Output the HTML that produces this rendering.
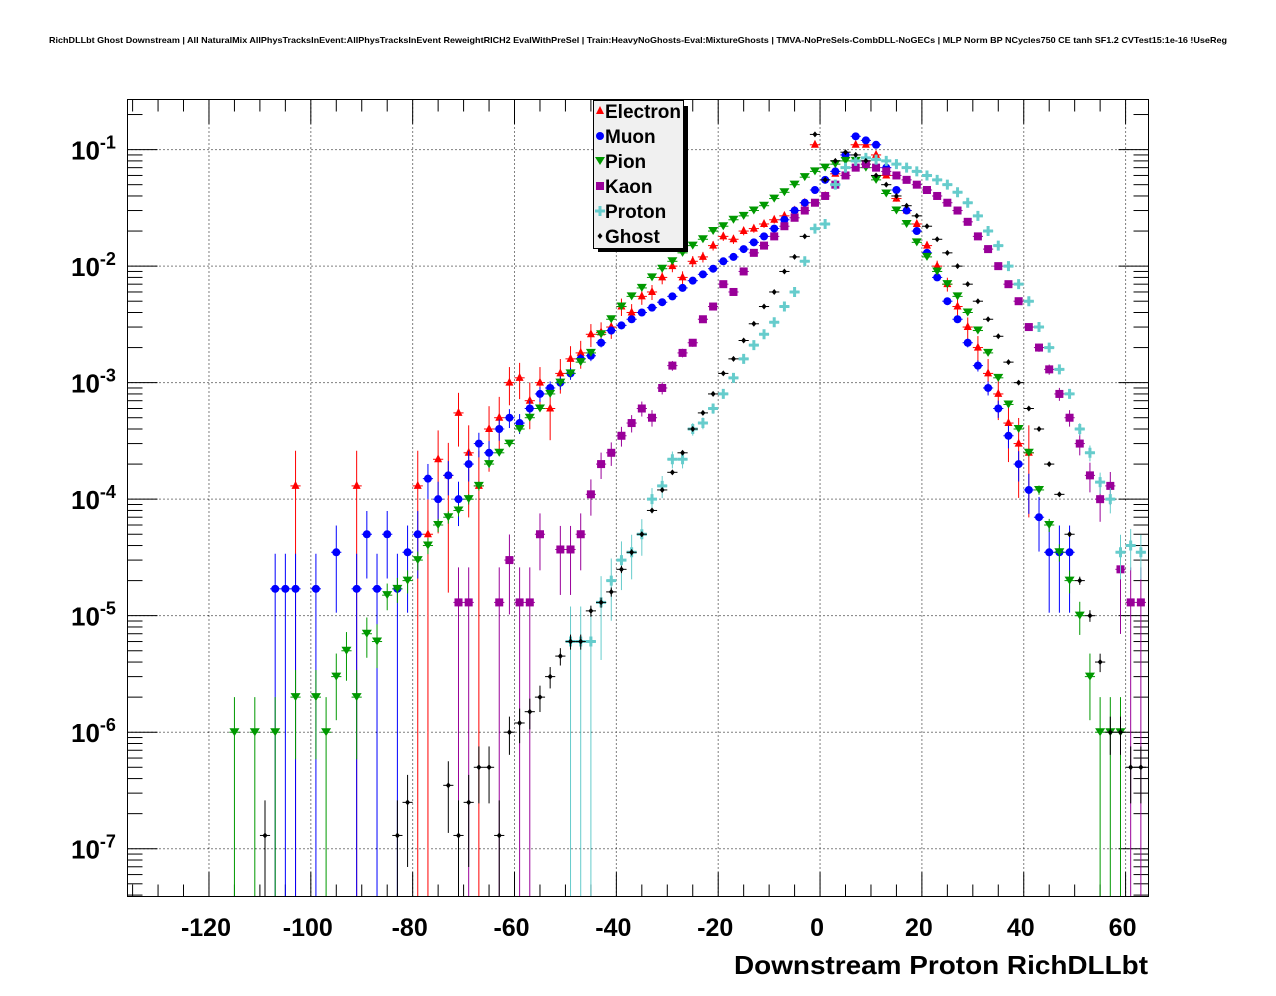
<!DOCTYPE html>
<html><head><meta charset="utf-8">
<style>
body{margin:0;background:#fff;}
svg{display:block;font-family:"Liberation Sans",sans-serif;}
</style></head>
<body>
<svg id="c" width="1276" height="996" xmlns="http://www.w3.org/2000/svg">
<text x="638" y="43" text-anchor="middle" font-size="8.5" font-weight="bold" textLength="1178" lengthAdjust="spacingAndGlyphs">RichDLLbt Ghost Downstream | All NaturalMix AllPhysTracksInEvent:AllPhysTracksInEvent ReweightRICH2 EvalWithPreSel | Train:HeavyNoGhosts-Eval:MixtureGhosts | TMVA-NoPreSels-CombDLL-NoGECs | MLP Norm BP NCycles750 CE tanh SF1.2 CVTest15:1e-16 !UseReg</text>
<g id="grid"></g>
<g id="axes"></g>
<g id="marks"></g>
<rect x="127.5" y="99.5" width="1021" height="797" fill="none" stroke="#000"/>
<g>
<rect x="598" y="106" width="90" height="146" fill="#000"/>
<rect x="593.5" y="100.5" width="90" height="148" fill="#f0f0f0" stroke="#000"/>
<g id="leg"></g>
</g>
<text x="1148" y="974" text-anchor="end" font-size="26" font-weight="bold" textLength="414" lengthAdjust="spacingAndGlyphs">Downstream Proton RichDLLbt</text>
</svg>
<script>
const seriesNames=["Electron","Muon","Pion","Kaon","Proton","Ghost"];
const seriesColors=["#ff0000","#0000ff","#009900","#990099","#66cccc","#000000"];
const seriesUnit=[1.3e-4,1.7e-5,1e-6,1.3e-5,6e-6,1.3e-7];
const xTicks=[-120,-100,-80,-60,-40,-20,0,20,40,60];
const yTickExps=[-1,-2,-3,-4,-5,-6,-7];

const electronX=[-103,-91,-79,-77,-75,-73,-71,-69,-67,-65,-63,-61,-59,-57,-55,-53,-51,-49,-47,-45,-43,-41,-39,-37,-35,-33,-31,-29,-27,-25,-23,-21,-19,-17,-15,-13,-11,-9,-7,-5,-3,-1,1,3,5,7,9,11,13,15,17,19,21,23,25,27,29,31,33,35,37,39,41];
const electronY=[1.3e-4,1.3e-4,1.3e-4,5e-5,2.2e-4,1.6e-4,5.5e-4,2.5e-4,1.3e-4,4e-4,5e-4,1e-3,1.1e-3,7e-4,1e-3,6e-4,1.2e-3,1.6e-3,1.8e-3,2.6e-3,2.7e-3,3e-3,4.5e-3,4e-3,5.5e-3,6e-3,8e-3,1e-2,8e-3,1.1e-2,1.2e-2,1.5e-2,1.8e-2,1.7e-2,2e-2,2.1e-2,2.3e-2,2.5e-2,2.7e-2,3e-2,3.5e-2,1.1e-1,4e-2,6.2e-2,9e-2,1.1e-1,1.1e-1,9e-2,6e-2,3.8e-2,3e-2,2.3e-2,1.5e-2,1e-2,7e-3,4.5e-3,3e-3,2e-3,1.2e-3,8e-4,4.5e-4,3e-4,2.5e-4];

const muonX=[-107,-105,-103,-99,-95,-91,-89,-87,-85,-83,-81,-79,-77,-75,-73,-71,-69,-67,-65,-63,-61,-59,-57,-55,-53,-51,-49,-47,-45,-43,-41,-39,-37,-35,-33,-31,-29,-27,-25,-23,-21,-19,-17,-15,-13,-11,-9,-7,-5,-3,-1,1,3,5,7,9,11,13,15,17,19,21,23,25,27,29,31,33,35,37,39,41,43,45,47,49];
const muonY=[1.7e-5,1.7e-5,1.7e-5,1.7e-5,3.5e-5,1.7e-5,5e-5,1.7e-5,5e-5,1.7e-5,3.5e-5,5e-5,1.5e-4,1e-4,1.6e-4,1e-4,2e-4,3e-4,2.5e-4,4e-4,5e-4,4.5e-4,6e-4,8e-4,9e-4,1e-3,1.2e-3,1.6e-3,1.7e-3,2.2e-3,2.8e-3,3.1e-3,3.5e-3,4e-3,4.4e-3,4.9e-3,5.5e-3,6.5e-3,7.5e-3,8.5e-3,9.5e-3,1.1e-2,1.2e-2,1.4e-2,1.6e-2,1.8e-2,2.1e-2,2.5e-2,3e-2,3.5e-2,4.5e-2,5.5e-2,6.5e-2,9e-2,1.3e-1,1.2e-1,1.1e-1,7e-2,4.5e-2,3e-2,2e-2,1.3e-2,8e-3,5e-3,3.5e-3,2.2e-3,1.4e-3,9e-4,6e-4,3.5e-4,2e-4,1.2e-4,7e-5,3.5e-5,3.5e-5,3.5e-5];

const pionX=[-115,-111,-107,-103,-99,-97,-95,-93,-91,-89,-87,-85,-83,-81,-79,-77,-75,-73,-71,-69,-67,-65,-63,-61,-59,-57,-55,-53,-51,-49,-47,-45,-43,-41,-39,-37,-35,-33,-31,-29,-27,-25,-23,-21,-19,-17,-15,-13,-11,-9,-7,-5,-3,-1,1,3,5,7,9,11,13,15,17,19,21,23,25,27,29,31,33,35,37,39,41,43,45,47,49,51,53,55,57,59];
const pionY=[1e-6,1e-6,1e-6,2e-6,2e-6,1e-6,3e-6,5e-6,2e-6,7e-6,6e-6,1.5e-5,1.7e-5,2e-5,3e-5,4e-5,6e-5,7e-5,8e-5,1e-4,1.3e-4,2e-4,2.5e-4,3e-4,4e-4,5e-4,6e-4,8e-4,1e-3,1.2e-3,1.5e-3,1.8e-3,2.6e-3,3.5e-3,4.5e-3,5.5e-3,6.5e-3,8e-3,9.5e-3,1.1e-2,1.3e-2,1.5e-2,1.7e-2,2e-2,2.2e-2,2.5e-2,2.7e-2,3e-2,3.3e-2,3.8e-2,4.3e-2,5e-2,5.8e-2,6.5e-2,7e-2,7.5e-2,8e-2,8e-2,7e-2,5.5e-2,4.2e-2,3e-2,2.3e-2,1.6e-2,1.2e-2,9e-3,7e-3,5.5e-3,4e-3,2.8e-3,1.8e-3,1.1e-3,6.5e-4,4e-4,2.5e-4,1.2e-4,6e-5,3.5e-5,2e-5,1e-5,3e-6,1e-6,1e-6,1e-6];

const kaonX=[-71,-69,-63,-61,-59,-57,-55,-51,-49,-47,-45,-43,-41,-39,-37,-35,-33,-31,-29,-27,-25,-23,-21,-19,-17,-15,-13,-11,-9,-7,-5,-3,-1,1,3,5,7,9,11,13,15,17,19,21,23,25,27,29,31,33,35,37,39,41,43,45,47,49,51,53,55,57,59,61,63];
const kaonY=[1.3e-5,1.3e-5,1.3e-5,3e-5,1.3e-5,1.3e-5,5e-5,3.7e-5,3.7e-5,5e-5,1.1e-4,2e-4,2.5e-4,3.5e-4,4.5e-4,6e-4,5e-4,9e-4,1.4e-3,1.8e-3,2.2e-3,3.5e-3,4.5e-3,7e-3,6e-3,9e-3,1.3e-2,1.5e-2,1.8e-2,2.2e-2,2.6e-2,3e-2,3.5e-2,4e-2,5e-2,6e-2,7e-2,7.5e-2,7e-2,6.5e-2,6e-2,5.5e-2,5e-2,4.5e-2,4e-2,3.5e-2,3e-2,2.4e-2,1.8e-2,1.4e-2,1e-2,7e-3,5e-3,3e-3,2e-3,1.3e-3,8e-4,5e-4,3e-4,1.6e-4,1e-4,1.3e-4,2.5e-5,1.3e-5,1.3e-5];

const protonX=[-49,-47,-45,-43,-41,-39,-37,-35,-33,-31,-29,-27,-25,-23,-21,-19,-17,-15,-13,-11,-9,-7,-5,-3,-1,1,3,5,7,9,11,13,15,17,19,21,23,25,27,29,31,33,35,37,39,41,43,45,47,49,51,53,55,57,59,61,63];
const protonY=[6e-6,6e-6,6e-6,1.3e-5,2e-5,3e-5,3.5e-5,5e-5,1e-4,1.3e-4,2.2e-4,2.2e-4,4e-4,4.5e-4,6e-4,8e-4,1.1e-3,1.6e-3,2.1e-3,2.6e-3,3.3e-3,4.5e-3,6e-3,1.1e-2,2.1e-2,2.3e-2,5e-2,7e-2,8e-2,8.5e-2,8.2e-2,8e-2,7.5e-2,7e-2,6.5e-2,6e-2,5.5e-2,5e-2,4.3e-2,3.5e-2,2.7e-2,2e-2,1.5e-2,1e-2,7e-3,5e-3,3e-3,2e-3,1.3e-3,8e-4,4e-4,2.5e-4,1.4e-4,1e-4,3.5e-5,4e-5,3.5e-5];

const ghostX=[-109,-83,-81,-73,-71,-69,-67,-65,-63,-61,-59,-57,-55,-53,-51,-49,-47,-45,-43,-41,-39,-37,-35,-33,-31,-29,-27,-25,-23,-21,-19,-17,-15,-13,-11,-9,-7,-5,-3,-1,1,3,5,7,9,11,13,15,17,19,21,23,25,27,29,31,33,35,37,39,41,43,45,47,49,51,53,55,57,59,61,63];
const ghostY=[1.3e-7,1.3e-7,2.5e-7,3.5e-7,1.3e-7,2.5e-7,5e-7,5e-7,1.3e-7,1e-6,1.2e-6,1.5e-6,2e-6,3e-6,4.5e-6,6e-6,6e-6,1.1e-5,1.3e-5,1.6e-5,2.5e-5,3.5e-5,5e-5,8e-5,1.2e-4,1.7e-4,2.5e-4,4e-4,5.5e-4,8e-4,1.2e-3,1.6e-3,2.3e-3,3.2e-3,4.5e-3,6e-3,9e-3,1.2e-2,1.8e-2,1.35e-1,5.5e-2,8e-2,9.5e-2,9e-2,8e-2,6e-2,5e-2,4e-2,3.3e-2,2.7e-2,2.2e-2,1.7e-2,1.3e-2,1e-2,7e-3,5e-3,3.5e-3,2.5e-3,1.5e-3,1e-3,6e-4,4e-4,2e-4,1.1e-4,5e-5,2e-5,1e-5,4e-6,1e-6,1e-6,5e-7,5e-7];

const allX=[electronX,muonX,pionX,kaonX,protonX,ghostX];
const allY=[electronY,muonY,pionY,kaonY,protonY,ghostY];

const NS="http://www.w3.org/2000/svg";
const L=127.5,R=1148.5,T=99.5,B=896.5;
const xMin=-136,xMax=64.5;
const yMinLog=-7.41,yMaxLog=-0.57;
function sx(v){return L+(v-xMin)/(xMax-xMin)*(R-L);}
function sy(v){return B-(Math.log10(v)-yMinLog)/(yMaxLog-yMinLog)*(B-T);}
function mk(tag,attrs,parent){const e=document.createElementNS(NS,tag);for(const k in attrs)e.setAttribute(k,attrs[k]);parent.appendChild(e);return e;}

const grid=document.getElementById('grid'),axes=document.getElementById('axes'),marks=document.getElementById('marks');
xTicks.forEach(t=>{
  const x=sx(t);
  const g=mk('line',{x1:x,x2:x,y1:T,y2:B,stroke:'#000','stroke-dasharray':'1,3','stroke-width':1},grid);
  
  
  mk('line',{x1:x,x2:x,y1:B,y2:B-24,stroke:'#000'},axes);
  mk('line',{x1:x,x2:x,y1:T,y2:T+24,stroke:'#000'},axes);
  const tx=mk('text',{x:x-3,y:936,'text-anchor':'middle','font-size':25,'font-weight':'bold'},axes);
  tx.textContent=String(t);
  
  
});
for(let v=-135;v<=64;v+=5){if(v%20===0)continue;const x=sx(v);
  mk('line',{x1:x,x2:x,y1:B,y2:B-12,stroke:'#000'},axes);
  mk('line',{x1:x,x2:x,y1:T,y2:T+12,stroke:'#000'},axes);}
yTickExps.forEach(e=>{
  const y=sy(Math.pow(10,e));
  const g=mk('line',{x1:L,x2:R,y1:y,y2:y,stroke:'#000','stroke-dasharray':'1,3','stroke-width':1},grid);
  
  
  mk('line',{x1:L,x2:L+30,y1:y,y2:y,stroke:'#000'},axes);
  mk('line',{x1:R,x2:R-30,y1:y,y2:y,stroke:'#000'},axes);
  const tx=mk('text',{x:71,y:y+10,'font-size':26,'font-weight':'bold'},axes);
  tx.innerHTML='10<tspan dy="-11" font-size="18">'+e+'</tspan>';
  
  
});
for(let e=-8;e<=-1;e++)for(let m=2;m<=9;m++){const v=m*Math.pow(10,e);const lv=Math.log10(v);if(lv<yMinLog||lv>yMaxLog)continue;const y=sy(v);
  mk('line',{x1:L,x2:L+15,y1:y,y2:y,stroke:'#000'},axes);
  mk('line',{x1:R,x2:R-15,y1:y,y2:y,stroke:'#000'},axes);}

function marker(s,x,y,c,p){
  if(s===0) return mk('polygon',{points:`${x},${y-5} ${x-4},${y+3} ${x+4},${y+3}`,fill:c},p);
  if(s===1) return mk('circle',{cx:x,cy:y,r:4,fill:c},p);
  if(s===2) return mk('polygon',{points:`${x-5},${y-4} ${x+5},${y-4} ${x},${y+4}`,fill:c},p);
  if(s===3) return mk('rect',{x:x-4,y:y-4,width:8,height:8,fill:c},p);
  if(s===4) return mk('path',{d:`M${x-5},${y-1.5}h3.5v-3.5h3v3.5h3.5v3h-3.5v3.5h-3v-3.5h-3.5z`,fill:c},p);
  return mk('polygon',{points:`${x},${y-3} ${x+2.5},${y} ${x},${y+3} ${x-2.5},${y}`,fill:c},p);
}
const clip=mk('clipPath',{id:'pc'},document.getElementById('c'));
mk('rect',{x:L,y:T,width:R-L,height:B-T},clip);
marks.setAttribute('clip-path','url(#pc)');
allX.forEach((xs,s)=>{
  const g=mk('g',{},marks);
  
  
  const c=seriesColors[s];
  xs.forEach((xv,i)=>{
    const v=allY[s][i];
    const x=sx(xv),y=sy(v);
    const rel=Math.min(1,Math.sqrt(seriesUnit[s]/v));
    const yHi=sy(v*(1+rel));
    const yLo=rel>=0.97?B:sy(v*(1-rel));
    mk('line',{x1:x,x2:x,y1:yHi,y2:yLo,stroke:c,'stroke-width':1},g);
    mk('line',{x1:sx(xv-1),x2:sx(xv+1),y1:y,y2:y,stroke:c,'stroke-width':1},g);
    const m=marker(s,x,y,c,g);
    
    
  });
});
const leg=document.getElementById('leg');
seriesNames.forEach((n,i)=>{
  const y=111+i*25;
  marker(i,600,y,seriesColors[i],leg);
  const t=mk('text',{x:605,y:y+7,'font-size':19,'font-weight':'bold'},leg);
  t.textContent=n;
  
  
});
</script>
</body></html>
